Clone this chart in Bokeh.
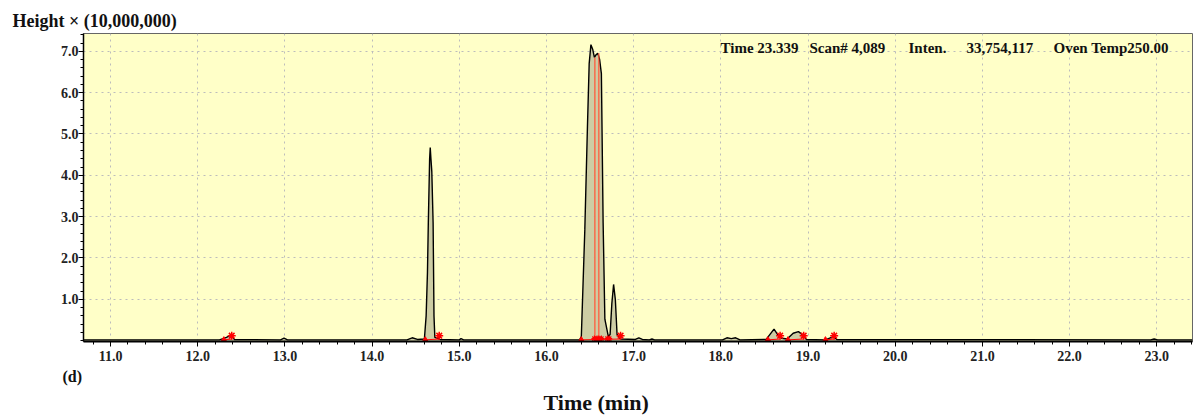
from bokeh.plotting import figure
from bokeh.models import FixedTicker, Label, Range1d, CustomJSTickFormatter, Title
from bokeh.embed import file_html
from bokeh.resources import INLINE

# ---- data (time in min, height in units of 10,000,000) ----
trace_time = [10.69, 12.25, 12.33, 12.38, 12.42, 12.95, 12.99, 13.03,
              14.40, 14.46, 14.52, 14.60, 14.62, 14.635, 14.645, 14.66, 14.667,
              14.675, 14.685, 14.70, 14.71, 14.72, 14.78, 15.00, 15.02, 15.05,
              16.38, 16.40, 16.44, 16.47, 16.49, 16.51, 16.53, 16.55, 16.57,
              16.59, 16.61, 16.63, 16.65, 16.67, 16.71, 16.73, 16.75, 16.77,
              16.79, 16.81, 16.85, 17.02, 17.06, 17.10, 17.18, 17.21, 17.24,
              18.02, 18.07, 18.12, 18.17, 18.22, 18.52, 18.61, 18.66, 18.70,
              18.76, 18.83, 18.89, 18.94, 18.98, 19.20, 19.29, 19.33, 22.93,
              22.97, 23.01, 23.41]
trace_height = [0.02, 0.02, 0.08, 0.14, 0.03, 0.02, 0.06, 0.02,
                0.02, 0.07, 0.03, 0.04, 0.60, 1.64, 2.85, 4.40, 4.67,
                4.40, 4.09, 2.85, 0.60, 0.08, 0.03, 0.02, 0.05, 0.02,
                0.02, 0.10, 2.68, 5.16, 6.70, 7.16, 7.05, 6.85, 6.92,
                6.95, 6.80, 6.46, 2.85, 0.52, 0.10, 0.15, 0.90, 1.36,
                1.00, 0.15, 0.04, 0.03, 0.07, 0.03, 0.02, 0.04, 0.02,
                0.02, 0.07, 0.05, 0.07, 0.02, 0.03, 0.28, 0.12, 0.06,
                0.04, 0.18, 0.22, 0.14, 0.03, 0.02, 0.10, 0.03, 0.02,
                0.04, 0.02, 0.02]

peak_start = [12.30, 14.61, 16.40, 18.54, 18.77, 19.20]
peak_end = [12.39, 14.77, 16.85, 18.68, 18.95, 19.30]
split_marks = [16.55, 16.58, 16.60, 16.63, 16.70, 16.72]
split_lines = [16.555, 16.60]
split_tops = [6.85, 6.95]

x_ticks = [11.0, 12.0, 13.0, 14.0, 15.0, 16.0, 17.0, 18.0, 19.0, 20.0,
           21.0, 22.0, 23.0]
y_ticks = [1.0, 2.0, 3.0, 4.0, 5.0, 6.0, 7.0]

info_texts = ["Time 23.339", "Scan# 4,089", "Inten.", "33,754,117", "Oven Temp250.00"]
info_x = [720, 809, 908, 966, 1053]

SERIF = "Liberation Serif"

p = figure(width=1196, height=415, output_backend="svg", toolbar_location=None,
           x_range=Range1d(10.69, 23.41), y_range=Range1d(-0.02, 7.43),
           min_border_left=83, min_border_right=4, min_border_top=33,
           min_border_bottom=0)
p.background_fill_color = "#FFFFC8"
p.border_fill_color = "white"
p.outline_line_color = "#666666"
p.outline_line_width = 1

# axes
x_minor = [round(10.8 + 0.2 * i, 2) for i in range(64)]
y_minor = [round(0.2 * i, 2) for i in range(38)]
p.xaxis.ticker = FixedTicker(ticks=x_ticks, minor_ticks=x_minor)
p.yaxis.ticker = FixedTicker(ticks=y_ticks, minor_ticks=y_minor)
fmt = CustomJSTickFormatter(code="return tick.toFixed(1);")
p.xaxis.formatter = fmt
p.yaxis.formatter = fmt
for ax in (p.xaxis, p.yaxis):
    ax.major_label_text_font = SERIF
    ax.major_label_text_font_style = "bold"
    ax.major_label_text_font_size = "14px"
    ax.major_label_text_color = "#222222"
    ax.axis_line_color = "black"
    ax.major_tick_line_color = "black"
    ax.minor_tick_line_color = "black"
    ax.major_tick_in = 0
    ax.minor_tick_in = 0
    ax.major_tick_out = 5
    ax.minor_tick_out = 3
p.xaxis.axis_line_width = 2
p.yaxis.axis_line_width = 1.5
p.xaxis.major_label_standoff = 4
p.yaxis.major_label_standoff = 0

p.grid.grid_line_color = "#bcbcbc"
p.grid.grid_line_dash = "2 4"
p.grid.grid_line_width = 1

# chromatogram
p.varea(x=trace_time, y1=[0] * len(trace_time), y2=trace_height,
        fill_color="#c8c8a0", fill_alpha=0.9)
p.line(trace_time, trace_height, line_color="black", line_width=1.4)

# peak split lines
p.segment(x0=split_lines, y0=[0, 0], x1=split_lines, y1=split_tops,
          line_color="#ff5a3c", line_width=1.6, line_alpha=0.8)

# integration marks
p.segment(x0=peak_start, y0=[0.02] * len(peak_start), x1=peak_end,
          y1=[0.04] * len(peak_end), line_color="red", line_width=1)
p.scatter(peak_start, [0.0] * len(peak_start), marker="triangle", size=7,
          color="red")
p.scatter(peak_end, [0.12] * len(peak_end), marker="asterisk", size=8,
          line_color="red", line_width=1.5)
p.scatter(split_marks, [0.05] * len(split_marks), marker="asterisk", size=6,
          line_color="red", line_width=1.2)

# titles outside the frame
t_top = Title(text="Height × (10,000,000)", align="left", offset=-71,
              text_font=SERIF, text_font_style="bold", text_font_size="18px",
              text_color="#111111", standoff=6)
p.add_layout(t_top, "above")
t_d = Title(text="(d)", align="left", offset=-21, text_font=SERIF,
            text_font_style="bold", text_font_size="16px", text_color="#111111",
            standoff=4)
p.add_layout(t_d, "below")
t_x = Title(text="Time (min)", align="left", offset=460, text_font=SERIF,
            text_font_style="bold", text_font_size="22px", text_color="#111111",
            standoff=2)
p.add_layout(t_x, "below")

# info line inside the frame (screen units relative to frame bottom-left)
for t, xx in zip(info_texts, info_x):
    p.add_layout(Label(x=xx - 83, y=294, x_units="screen", y_units="screen",
                       text=t, text_font=SERIF, text_font_style="bold",
                       text_font_size="15px", text_baseline="middle",
                       text_align="left", text_color="#111111"))

open("out.html", "w").write(file_html(p, INLINE))
